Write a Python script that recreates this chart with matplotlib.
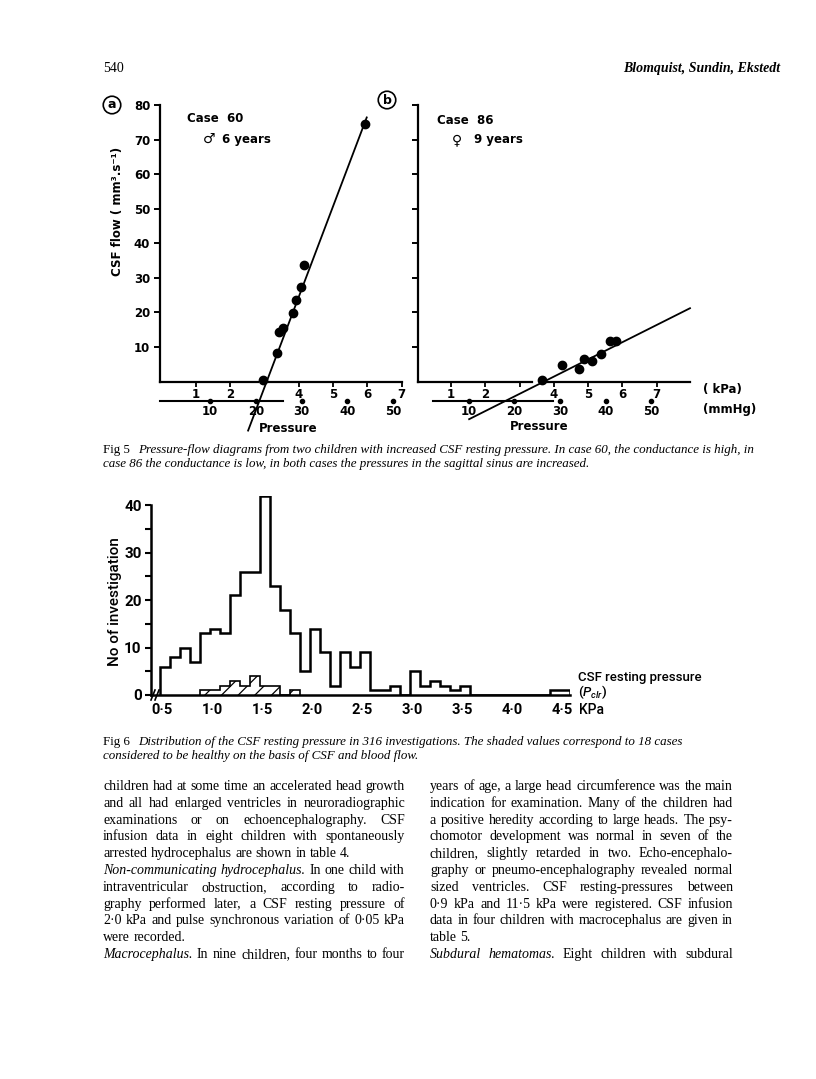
import matplotlib
matplotlib.use("Agg")
import matplotlib.pyplot as plt
import numpy as np

# ---------------- data ----------------
# Fig 5a  (case 60)
case60_kpa = [2.95, 3.37, 3.41, 3.55, 3.84, 3.91, 4.05, 4.15, 5.94]
case60_flow = [0.5, 8.3, 14.4, 15.5, 19.9, 23.6, 27.3, 33.6, 74.5]
case60_fit_kpa = [2.52, 5.98]
case60_fit_flow = [-14.2, 76.4]
# Fig 5b  (case 86)
case86_kpa = [3.64, 4.23, 4.72, 4.89, 5.11, 5.38, 5.64, 5.81]
case86_flow = [0.5, 4.7, 3.7, 6.6, 5.8, 8.1, 11.7, 11.7]
case86_fit_kpa = [1.53, 7.97]
case86_fit_flow = [-10.9, 21.2]

flow_ticks = [10, 20, 30, 40, 50, 60, 70, 80]
kpa_ticks = [1, 2, 3, 4, 5, 6, 7]
mmhg_ticks = [10, 20, 30, 40, 50]
KPA_PER_MMHG = 0.1333

# Fig 6 histogram (bins of 0.1 kPa)
bin_edges = np.linspace(0.475, 4.575, 42)
all_counts = [6, 8, 10, 7, 13, 14, 13, 21, 26, 26, 42, 23, 18, 13, 5, 14, 9, 2, 9, 6,
              9, 1, 1, 2, 0, 5, 2, 3, 2, 1, 2, 0, 0, 0, 0, 0, 0, 0, 0, 1, 1]
healthy_first_bin = 4
healthy_counts = [1, 1, 2, 3, 2, 4, 2, 2, 0, 1]
hist_xticks = [0.5, 1.0, 1.5, 2.0, 2.5, 3.0, 3.5, 4.0, 4.5]
hist_xlabels = ["0·5", "1·0", "1·5", "2·0", "2·5", "3·0", "3·5", "4·0", "4·5"]
hist_yticks = [0, 10, 20, 30, 40]
hist_minor_yticks = [5, 15, 25, 35]

# text
header_left = "540"
header_right = "Blomquist, Sundin, Ekstedt"
fig5_caption = ["Pressure-flow diagrams from two children with increased CSF resting pressure. In case 60, the conductance is high, in",
                "case 86 the conductance is low, in both cases the pressures in the sagittal sinus are increased."]
fig6_caption = ["Distribution of the CSF resting pressure in 316 investigations. The shaded values correspond to 18 cases",
                "considered to be healthy on the basis of CSF and blood flow."]
left_col = [
    "children had at some time an accelerated head growth",
    "and all had enlarged ventricles in neuroradiographic",
    "examinations or on echoencephalography. CSF",
    "infusion data in eight children with spontaneously",
    "arrested hydrocephalus are shown in table 4.",
    "~Non-communicating ~hydrocephalus. In one child with",
    "intraventricular obstruction, according to radio-",
    "graphy performed later, a CSF resting pressure of",
    "2·0 kPa and pulse synchronous variation of 0·05 kPa",
    "were recorded.",
    "~Macrocephalus. In nine children, four months to four",
]
left_ragged = {4, 9}
right_col = [
    "years of age, a large head circumference was the main",
    "indication for examination. Many of the children had",
    "a positive heredity according to large heads. The psy-",
    "chomotor development was normal in seven of the",
    "children, slightly retarded in two. Echo-encephalo-",
    "graphy or pneumo-encephalography revealed normal",
    "sized ventricles. CSF resting-pressures between",
    "0·9 kPa and 11·5 kPa were registered. CSF infusion",
    "data in four children with macrocephalus are given in",
    "table 5.",
    "~Subdural ~hematomas. Eight children with subdural",
]
right_ragged = {9}

# ---------------- figure ----------------
W, H = 816, 1079
fig = plt.figure(figsize=(W / 100, H / 100), dpi=100)
fig.patch.set_facecolor("white")
renderer = fig.canvas.get_renderer()

SANS = "DejaVu Sans"
HSANS = "Roboto"
SERIF = "Liberation Serif"
plt.rcParams["mathtext.fontset"] = "custom"
plt.rcParams["mathtext.it"] = "Roboto:italic:medium"
plt.rcParams["mathtext.rm"] = "Roboto:medium"


def px_axes(x0, y0, x1, y1):
    return fig.add_axes([x0 / W, 1 - y1 / H, (x1 - x0) / W, (y1 - y0) / H])


ov = fig.add_axes([0, 0, 1, 1])
ov.set_xlim(0, W)
ov.set_ylim(H, 0)
ov.axis("off")
ov.set_zorder(5)


def width_of(t):
    return t.get_window_extent(renderer).width


def natural_width(line, size):
    objs = []
    for w in line.split(" "):
        ital = w.startswith("~")
        objs.append(ov.text(0, 0, w.lstrip("~"), family=SERIF,
                            style="italic" if ital else "normal", fontsize=size))
    a = ov.text(0, 0, "x x", family=SERIF, fontsize=size)
    b = ov.text(0, 0, "xx", family=SERIF, fontsize=size)
    space = width_of(a) - width_of(b)
    tot = sum(width_of(t) for t in objs) + space * (len(objs) - 1)
    for t in objs + [a, b]:
        t.remove()
    return tot


def draw_words(x0, x1, y, line, size, justify):
    objs = []
    for w in line.split(" "):
        ital = w.startswith("~")
        objs.append(ov.text(0, y, w.lstrip("~"), family=SERIF,
                            style="italic" if ital else "normal",
                            fontsize=size, va="baseline", ha="left"))
    widths = [width_of(t) for t in objs]
    a = ov.text(0, 0, "x x", family=SERIF, fontsize=size)
    b = ov.text(0, 0, "xx", family=SERIF, fontsize=size)
    space = width_of(a) - width_of(b)
    a.remove(); b.remove()
    gap = space
    if justify and len(objs) > 1:
        gap = (x1 - x0 - sum(widths)) / (len(objs) - 1)
    x = x0
    for t, wd in zip(objs, widths):
        t.set_x(x)
        x += wd + gap


def fit_size(text, target, style="normal", ref=10.0):
    t = ov.text(0, 0, text, family=SERIF, style=style, fontsize=ref)
    w = width_of(t)
    t.remove()
    return ref * target / w


# header
ov.text(103, 72, header_left, family=SERIF, fontsize=10, va="baseline")
ov.text(780, 72, header_right, family=SERIF, fontsize=10, style="italic", weight="bold",
        va="baseline", ha="right")


def style_panel(ax, xlim, yticklabels):
    ax.set_facecolor("none")
    for s in ["top", "right", "bottom"]:
        ax.spines[s].set_visible(False)
    ax.spines["left"].set_linewidth(1.6)
    ax.set_xlim(*xlim)
    ax.set_ylim(0, 80)
    ax.set_yticks(flow_ticks)
    ax.set_yticklabels([str(v) for v in flow_ticks] if yticklabels else [])
    ax.tick_params(axis="y", direction="out", length=4, width=1.4, labelsize=8.5, pad=3)
    ax.tick_params(axis="x", direction="out", length=3.5, width=1.3, labelsize=8.5, pad=1.5)
    for lbl in ax.get_yticklabels() + ax.get_xticklabels():
        lbl.set_fontweight("bold")
        lbl.set_family(SANS)


def mmhg_row(ax, x_start, x_end, offset):
    yl = -5.6
    ax.plot([x_start, x_end], [yl, yl], color="k", lw=1.5, clip_on=False)
    xs = [m * KPA_PER_MMHG + offset for m in mmhg_ticks]
    ax.plot(xs, [yl] * len(xs), "o", color="k", ms=3, clip_on=False)
    for m, x in zip(mmhg_ticks, xs):
        ax.text(x, -8.8, str(m), ha="center", va="center", fontsize=8.5, weight="bold",
                family=SANS, clip_on=False)


# ---- panel a ----
axa = px_axes(160, 105, 401.7, 381.5)
axa.set_xticks([1, 2, 4, 5, 6, 7])
axa.set_xticklabels(["1", "2", "4", "5", "6", "7"])
style_panel(axa, (-0.05, 7.0), True)
axa.plot([-0.05, 2.82], [0, 0], color="k", lw=1.6, clip_on=False)
axa.plot([3.11, 7.0], [0, 0], color="k", lw=1.6, clip_on=False)
axa.plot(case60_fit_kpa, case60_fit_flow, color="k", lw=1.3, clip_on=False)
axa.plot(case60_kpa, case60_flow, "o", color="k", ms=6, clip_on=False, zorder=3)
mmhg_row(axa, -0.05, 3.54, 0.08)

# ---- panel b ----
axb = px_axes(417.7, 105, 690, 381.5)
axb.set_xticks(kpa_ticks)
axb.set_xticklabels(["1", "2", "", "4", "5", "6", "7"])
style_panel(axb, (0.03, 7.97), False)
axb.plot([0.03, 3.35], [0, 0], color="k", lw=1.6, clip_on=False)
axb.plot([3.79, 7.97], [0, 0], color="k", lw=1.6, clip_on=False)
axb.plot(case86_fit_kpa, case86_fit_flow, color="k", lw=1.3, clip_on=False)
axb.plot(case86_kpa, case86_flow, "o", color="k", ms=6, clip_on=False, zorder=3)
mmhg_row(axb, 0.48, 3.98, 0.18)

# panel texts
circ = dict(boxstyle="circle,pad=0.18", fc="white", ec="black", lw=1.2)
ov.text(112, 105, "a", ha="center", va="center", fontsize=9, weight="bold", family=SANS, bbox=circ)
ov.text(387, 100, "b", ha="center", va="center", fontsize=9, weight="bold", family=SANS, bbox=circ)
ov.text(117, 211, "CSF flow ( mm³.s⁻¹)", rotation=90, ha="center", va="center",
        fontsize=8.5, weight="bold", family=SANS)
ov.text(187, 119, "Case  60", ha="left", va="center", fontsize=8.5, weight="bold", family=SANS)
ov.text(209, 139, "♂", ha="center", va="center", fontsize=10, weight="bold", family=SANS)
ov.text(222, 139, "6 years", ha="left", va="center", fontsize=8.5, weight="bold", family=SANS)
ov.text(437, 120, "Case  86", ha="left", va="center", fontsize=8.5, weight="bold", family=SANS)
ov.text(457, 140, "♀", ha="center", va="center", fontsize=10, weight="bold", family=SANS)
ov.text(474, 139, "9 years", ha="left", va="center", fontsize=8.5, weight="bold", family=SANS)
ov.text(288, 428, "Pressure", ha="center", va="center", fontsize=8.5, weight="bold", family=SANS)
ov.text(539, 427, "Pressure", ha="center", va="center", fontsize=8.5, weight="bold", family=SANS)
ov.text(703, 390, "( kPa)", ha="left", va="center", fontsize=8.5, weight="bold", family=SANS)
ov.text(703, 410, "(mmHg)", ha="left", va="center", fontsize=8.5, weight="bold", family=SANS)

# ---- caption fig 5 ----
CAP = fit_size(fig5_caption[0], 755 - 138, style="italic")
ov.text(103, 453, "Fig 5", family=SERIF, fontsize=CAP, va="baseline")
ov.text(138, 453, fig5_caption[0], family=SERIF, style="italic", fontsize=CAP, va="baseline")
ov.text(103, 467, fig5_caption[1], family=SERIF, style="italic", fontsize=CAP, va="baseline")

# ---- histogram ----
axh = px_axes(150.7, 495.5, 570, 695)
axh.set_facecolor("none")
axh.set_xlim(0.382, 4.575)
axh.set_ylim(0, 42)
for s in ["top", "right"]:
    axh.spines[s].set_visible(False)
axh.spines["left"].set_bounds(0, 40)
axh.spines["left"].set_linewidth(1.8)
axh.spines["bottom"].set_linewidth(1.8)
he = bin_edges[healthy_first_bin:healthy_first_bin + len(healthy_counts) + 1]
plt.rcParams["hatch.linewidth"] = 0.9
axh.stairs(healthy_counts, he, fill=True, facecolor="white", edgecolor="black",
           hatch="//", lw=1.2, zorder=2)
axh.stairs(all_counts, bin_edges, baseline=0, color="black", lw=1.8, zorder=3)
axh.set_yticks(hist_yticks)
axh.set_yticks(hist_minor_yticks, minor=True)
axh.tick_params(axis="y", which="both", direction="out", length=4.5, width=1.5,
                labelsize=11, pad=2)
axh.set_xticks(hist_xticks)
axh.set_xticklabels(hist_xlabels)
axh.tick_params(axis="x", length=0, labelsize=10.5, pad=6)
for lbl in axh.get_yticklabels() + axh.get_xticklabels():
    lbl.set_fontweight("bold")
    lbl.set_family(HSANS)
# axis break
ov.plot([151, 155], [700, 690], color="k", lw=1.2)
ov.plot([155, 159], [700, 690], color="k", lw=1.2)
ov.text(115, 602, "No of investigation", rotation=90, ha="center", va="center",
        fontsize=11, weight="medium", family=HSANS)
ov.text(578, 678, "CSF resting pressure", ha="left", va="center", fontsize=9.5,
        weight="medium", family=HSANS)
ov.text(578, 692, r"$(P_{clr})$", ha="left", va="center", fontsize=9.5)
ov.text(579, 710, "KPa", ha="left", va="center", fontsize=10, weight="medium", family=HSANS)

# ---- caption fig 6 ----
ov.text(103, 745, "Fig 6", family=SERIF, fontsize=CAP, va="baseline")
ov.text(138, 745, fig6_caption[0], family=SERIF, style="italic", fontsize=CAP, va="baseline")
ov.text(103, 759, fig6_caption[1], family=SERIF, style="italic", fontsize=CAP, va="baseline")

# ---- body text ----
just_lines = [l for i, l in enumerate(left_col) if i not in left_ragged] + \
             [l for i, l in enumerate(right_col) if i not in right_ragged]
widest = max(natural_width(l, 10.0) for l in just_lines)
BODY = 10.0 * 300.0 / widest
for i, line in enumerate(left_col):
    draw_words(103, 405, 790 + 16.8 * i, line, BODY, i not in left_ragged)
for i, line in enumerate(right_col):
    draw_words(430, 733, 790 + 16.8 * i, line, BODY, i not in right_ragged)

fig.savefig("out.png", dpi=100, facecolor="white")
